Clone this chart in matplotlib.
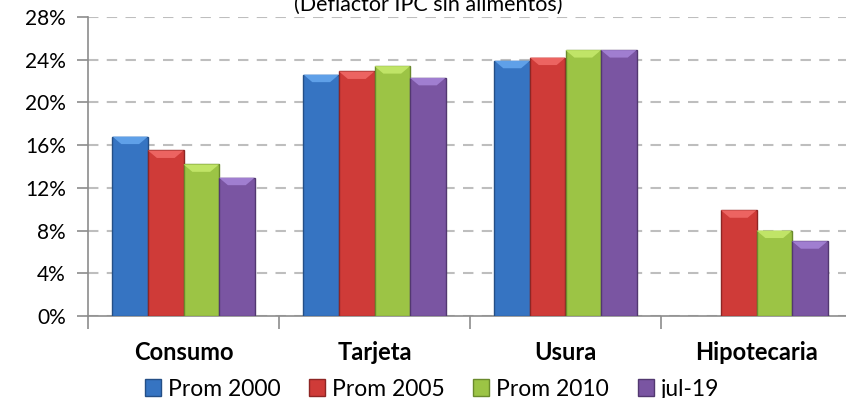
import matplotlib
matplotlib.use("Agg")
import matplotlib.pyplot as plt
import numpy as np
from matplotlib.patches import Patch, Polygon

categories = ["Consumo", "Tarjeta", "Usura", "Hipotecaria"]
series_names = ["Prom 2000", "Prom 2005", "Prom 2010", "jul-19"]
prom2000 = [16.8, 22.6, 23.9, np.nan]
prom2005 = [15.5, 22.9, 24.2, 9.9]
prom2010 = [14.2, 23.4, 24.9, 8.0]
jul19 = [12.95, 22.3, 24.9, 7.0]
yticks = [0, 4, 8, 12, 16, 20, 24, 28]
title = "(Deflactor IPC sin alimentos)"

colors = ["#3674C2", "#CF3B38", "#9CC445", "#7A55A2"]
lights = ["#5FA0E8", "#EC6461", "#C0E467", "#A07ED0"]
edges = ["#244F86", "#8E2624", "#6A8A2C", "#523870"]

plt.rcParams['font.family'] = ['Lato', 'DejaVu Sans']

fig = plt.figure(figsize=(8.46, 3.98), dpi=100)
ax = fig.add_axes([88/846, 1-316/398, (852-88)/846, (316-17)/398])

x = np.arange(len(categories))
bw = 0.186
offsets = (np.arange(4) - 1.5) * bw
allseries = [prom2000, prom2005, prom2010, jul19]
for i, s in enumerate(allseries):
    bars = ax.bar(x + offsets[i], s, width=bw, color=colors[i], edgecolor=edges[i],
                  linewidth=1.0, zorder=3)
    for r in bars:
        h = r.get_height()
        if not np.isfinite(h) or h <= 0:
            continue
        x0, w = r.get_x(), r.get_width()
        bev = 0.7
        ins = w * 0.25
        poly = Polygon([[x0, h], [x0 + w, h], [x0 + w - ins, h - bev], [x0 + ins, h - bev]],
                       closed=True, facecolor=lights[i], edgecolor='none', zorder=4)
        ax.add_patch(poly)

ax.set_ylim(0, 28)
ax.set_xlim(-0.5, 3.5)
ax.set_yticks(yticks)
ax.set_yticklabels([f"{v}%" for v in yticks], fontsize=15)
ax.yaxis.grid(True, color="#BEBEBE", linestyle=(0, (5, 4)), linewidth=1.5, zorder=0)
ax.set_axisbelow(True)

ax.set_xticks(x)
ax.set_xticklabels(categories, fontsize=17, fontweight='bold')
ax.set_xticks(np.arange(-0.5, 4.0, 1.0), minor=True)
ax.tick_params(axis='x', which='major', length=0, pad=18)
ax.tick_params(axis='x', which='minor', length=9, color="#8C8C8C", width=1.2)
ax.tick_params(axis='y', length=8, color="#8C8C8C", width=1.2, pad=8)

for sp in ['top', 'right']:
    ax.spines[sp].set_visible(False)
ax.spines['left'].set_color("#8C8C8C")
ax.spines['bottom'].set_color("#8C8C8C")
ax.spines['left'].set_linewidth(1.2)
ax.spines['bottom'].set_linewidth(1.2)

fig.text(428/846, 1-15/398, title, ha='center', va='bottom', fontsize=15.5)

handles = [Patch(facecolor=colors[i], edgecolor=edges[i]) for i in range(4)]
fig.legend(handles, series_names, loc='center', bbox_to_anchor=(432/846, 1-389/398),
           ncol=4, frameon=False, fontsize=16.5, handlelength=0.7, handleheight=0.7,
           handletextpad=0.3, columnspacing=1.25, borderaxespad=0)

fig.savefig("out.png", dpi=100)
